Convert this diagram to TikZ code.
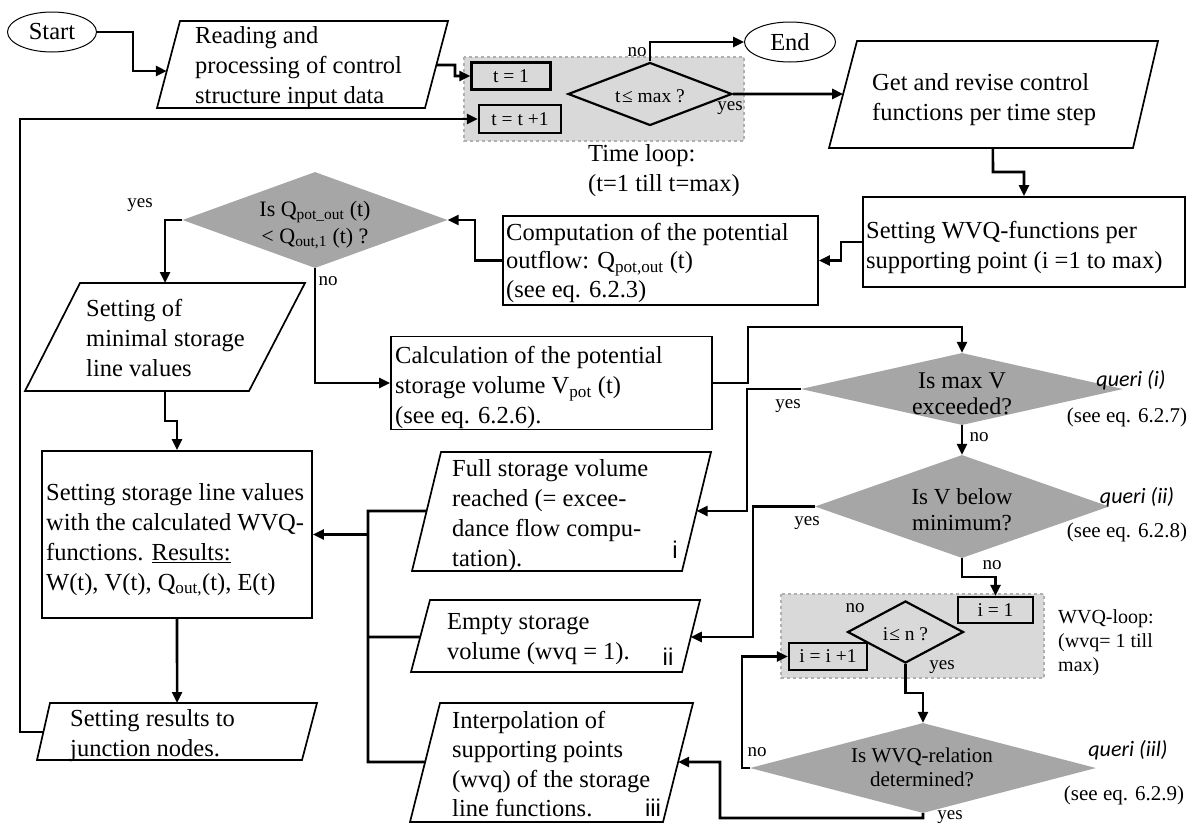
\documentclass[tikz,border=0pt]{standalone}
\usepackage{fontspec}
\setmainfont{Liberation Serif}
\newfontfamily\querifont{Carlito}
\newfontfamily\casefont{Liberation Sans}
\usetikzlibrary{arrows.meta,shapes.geometric,calc}

\newcommand\fmain{\fontsize{24.5}{30}\selectfont}
\newcommand\fsmall{\fontsize{19.5}{24}\selectfont}
\newcommand\flab{\fontsize{19}{23}\selectfont}
\newcommand\fref{\fontsize{21}{25}\selectfont}

\definecolor{qgray}{HTML}{A6A6A6}
\definecolor{loopgray}{HTML}{D9D9D9}
\definecolor{loopedge}{HTML}{B0B0B0}

\begin{document}
\begin{tikzpicture}[x=1pt,y=-1pt,
  outline/.style={draw=black,line width=1.7pt},
  box/.style={outline,rectangle,inner sep=0pt},
  smallbox/.style={draw=black,line width=2.2pt,rectangle,inner sep=0pt,font=\fsmall},
  term/.style={draw=black,line width=1pt,ellipse,inner sep=0pt,font=\fmain},
  query/.style={diamond,fill=qgray,draw=none,inner sep=0pt},
  loopdiamond/.style={diamond,draw=black,line width=2.2pt,inner sep=0pt},
  loopbg/.style={fill=loopgray,draw=loopedge,dashed,line width=1.2pt},
  flow/.style={draw=black,line width=2.6pt,-{Triangle[length=11pt,width=10pt]}},
  link/.style={draw=black,line width=2.6pt},
  txt/.style={anchor=north west,inner sep=0pt,align=left,font=\fmain},
  dtxt/.style={anchor=north,inner sep=0pt,align=center},
  lab/.style={inner sep=0pt,font=\flab},
  qlab/.style={inner sep=0pt,font=\fontsize{22}{26}\selectfont\querifont\itshape},
  eqlab/.style={inner sep=0pt,font=\fref},
  caselab/.style={inner sep=0pt,font=\fontsize{24}{28}\selectfont\casefont},
]
\useasboundingbox (0,0) rectangle (1194,825);

% loop backgrounds
\draw[loopbg] (464,57) rectangle (744,141);
\draw[loopbg] (781,594) rectangle (1044,678);

% parallelogram corners
\coordinate (read-bl) at (157,108); \coordinate (read-tl) at (180,21);
\coordinate (read-tr) at (448,21);  \coordinate (read-br) at (425,108);
\coordinate (get-bl) at (829,148);  \coordinate (get-tl) at (857,41);
\coordinate (get-tr) at (1158,41);  \coordinate (get-br) at (1133,148);
\coordinate (minp-bl) at (25,391);  \coordinate (minp-tl) at (80,283);
\coordinate (minp-tr) at (305,283); \coordinate (minp-br) at (249,391);
\coordinate (res-bl) at (37,760);   \coordinate (res-tl) at (50,703);
\coordinate (res-tr) at (317,703);  \coordinate (res-br) at (302,760);
\coordinate (full-bl) at (412,571); \coordinate (full-tl) at (441,452);
\coordinate (full-tr) at (711,452); \coordinate (full-br) at (682,571);
\coordinate (empty-bl) at (411,672); \coordinate (empty-tl) at (430,600);
\coordinate (empty-tr) at (700,600); \coordinate (empty-br) at (682,672);
\coordinate (interp-bl) at (410,822); \coordinate (interp-tl) at (440,703);
\coordinate (interp-tr) at (693,703); \coordinate (interp-br) at (663,822);

\foreach \p in {read,get,minp,res,full,empty,interp}
  \draw[outline,line join=miter] (\p-bl) -- (\p-tl) -- (\p-tr) -- (\p-br) -- cycle;

% terminals
\node[term,minimum width=89pt,minimum height=40pt] (start) at (52,32) {Start};
\node[term,minimum width=91pt,minimum height=40pt] (end) at (790,42) {End};

% time loop
\node[smallbox,minimum width=79pt,minimum height=27pt] (t1) at (511,76) {t = 1};
\node[smallbox,minimum width=82pt,minimum height=28pt] (tinc) at (520,119) {t = t +1};
\node[loopdiamond,minimum width=164pt,minimum height=63pt] (dt) at (650,94) {};
\node[font=\fsmall,inner sep=0pt] (dt-t) at (650,96) {t\kern1.5pt≤ max ?};

% process boxes
\node[box,minimum width=322pt,minimum height=90pt] (wvq) at (1024,242) {};
\node[box,minimum width=315pt,minimum height=89pt] (comp) at (660.5,260.5) {};
\node[box,minimum width=321pt,minimum height=93pt] (calc) at (551.5,383) {};
\node[box,minimum width=270pt,minimum height=167pt] (store) at (177,534.5) {};

% decisions
\node[query,minimum width=265pt,minimum height=96pt] (dq) at (315,220) {};
\node[query,minimum width=322pt,minimum height=72pt] (d1) at (962,389) {};
\node[query,minimum width=294pt,minimum height=103pt] (d2) at (962,506.5) {};
\node[query,minimum width=346pt,minimum height=90pt] (d3) at (923,768) {};

% WVQ loop
\node[smallbox,minimum width=75pt,minimum height=26pt] (i1) at (995.5,610) {i = 1};
\node[smallbox,minimum width=78pt,minimum height=27pt] (iinc) at (828,656.5) {i = i +1};
\node[loopdiamond,minimum width=116pt,minimum height=62pt] (dn) at (905.5,632) {};
\node[font=\fsmall,inner sep=0pt] (dn-t) at (905.5,634) {i\kern1pt≤ n ?};

% texts
\node[txt] (read-t) at (195,26) {Reading and\\processing of control\\structure input data};
\node[txt] (get-t) at (872,73) {Get and revise control\\functions per time step};
\node[txt] (wvq-t) at (866,221) {Setting WVQ-functions per\\supporting point (i =1 to max)};
\node[txt,font=\fontsize{24.5}{28.5}\selectfont] (comp-t) at (506,223)
  {Computation of the potential\\outflow: Q\textsubscript{pot,out} (t)\\(see eq. 6.2.3)};
\node[txt] (minp-t) at (86,299) {Setting of\\minimal storage\\line values};
\node[txt] (calc-t) at (395,346)
  {Calculation of the potential\\storage volume V\textsubscript{pot} (t)\\(see eq. 6.2.6).};
\node[txt] (store-t) at (46,483)
  {Setting storage line values\\with the calculated WVQ-\\functions. \underline{Results:}\\W(t), V(t), Q\textsubscript{out,}(t), E(t)};
\node[txt] (full-t) at (452,459) {Full storage volume\\reached (= excee-\\dance flow compu-\\tation).};
\node[txt] (empty-t) at (447,613) {Empty storage\\volume (wvq = 1).};
\node[txt,font=\fontsize{24.5}{29.5}\selectfont] (interp-t) at (452,711)
  {Interpolation of\\supporting points\\(wvq) of the storage\\line functions.};
\node[txt] (res-t) at (70,709) {Setting results to\\junction nodes.};
\node[txt] (tloop-t) at (588,144) {Time loop:\\(t=1 till t=max)};
\node[txt,font=\fontsize{20}{24}\selectfont] (wloop-t) at (1058,609) {WVQ-loop:\\(wvq= 1 till\\max)};

\node[dtxt,font=\fontsize{22}{27}\selectfont] (dq-t) at (315,201)
  {Is Q\textsubscript{pot\_out} (t)\\< Q\textsubscript{out,1} (t) ?};
\node[dtxt,font=\fontsize{24}{26}\selectfont] (d1-t) at (962,373) {Is max V\\exceeded?};
\node[dtxt,font=\fontsize{23}{26}\selectfont] (d2-t) at (962,488) {Is V below\\minimum?};
\node[dtxt,font=\fontsize{21}{23.5}\selectfont] (d3-t) at (922,748) {Is WVQ-relation\\determined?};

% branch labels
\node[lab] (l-tno) at (637,52) {no};
\node[lab] (l-tyes) at (730,108) {yes};
\node[lab] (l-qyes) at (140,205) {yes};
\node[lab] (l-qno) at (328,281) {no};
\node[lab] (l-1yes) at (788,406) {yes};
\node[lab] (l-1no) at (979,437) {no};
\node[lab] (l-2yes) at (807,523) {yes};
\node[lab] (l-2no) at (992,565) {no};
\node[lab] (l-nno) at (855,608) {no};
\node[lab] (l-nyes) at (942,667) {yes};
\node[lab] (l-3no) at (757,752) {no};
\node[lab] (l-3yes) at (950,817) {yes};

\node[qlab] (q1) at (1131,380) {queri (i)};
\node[eqlab] (e1) at (1127,417) {(see eq. 6.2.7)};
\node[qlab] (q2) at (1137,497) {queri (ii)};
\node[eqlab] (e2) at (1127,532) {(see eq. 6.2.8)};
\node[qlab] (q3) at (1128,750) {queri (iil)};
\node[eqlab] (e3) at (1124,795) {(see eq. 6.2.9)};

\node[caselab] (m1) at (675,550) {i};
\node[caselab] (m2) at (668,657) {ii};
\node[caselab] (m3) at (653,808) {iii};

% connectors
\draw[flow] (start.east) -- (133,32) |- ($(read-bl)!0.425!(read-tl)$);
\draw[flow] ($(read-br)!0.494!(read-tr)$) -- (455,65) |- (t1.west);
\draw[flow] ($(res-bl)!0.491!(res-tl)$) -| (20,119) -- (tinc.west);
\draw[flow] (dt.north) |- (end.west);
\draw[flow] (dt.east) -- ($(get-bl)!0.505!(get-tl)$);
\draw[flow] ($(get-bl)!0.539!(get-br)$) -- (993,172) -| (wvq.north);
\draw[flow] (wvq.west) -- (841,242) |- (comp.east);
\draw[flow] (comp.west) -- (475,260.5) |- (dq.east);
\draw[flow] (dq.west) -| ($(minp-tl)!0.378!(minp-tr)$);
\draw[flow] (dq.south) |- (calc.west);
\draw[flow] ($(minp-bl)!0.625!(minp-br)$) -- (165,421) -| (store.north);
\draw[flow] (calc.east) -- (748,383) -- (748,327) -| (d1.north);
\draw[flow] (d1.west) -- (747,389) |- ($(full-br)!0.504!(full-tr)$);
\draw[flow] (d1.south) -- (d2.north);
\draw[flow] (d2.west) -- (753,506.5) |- ($(empty-br)!0.486!(empty-tr)$);
\draw[flow] (d2.south) -- (962,577) -| (i1.north);
\draw[flow] (dn.south) -- (905.5,693) -| (d3.north);
\draw[flow] (d3.west) -- (742,768) |- (iinc.west);
\draw[flow] (d3.south) -- (923,818) -| (720,762) -- ($(interp-br)!0.504!(interp-tr)$);
\draw[flow] (store.south) -- ($(res-tl)!0.476!(res-tr)$);

% collector from the three storage cases
\coordinate (bus-top) at (368,511);
\coordinate (bus-bot) at (368,762);
\draw[link] ($(full-bl)!0.504!(full-tl)$) -- (bus-top) -- (bus-bot) -- ($(interp-bl)!0.504!(interp-tl)$);
\draw[link] ($(empty-bl)!0.486!(empty-tl)$) -- (368,637);
\draw[flow] (368,534.5) -- (store.east);
\end{tikzpicture}
\end{document}
